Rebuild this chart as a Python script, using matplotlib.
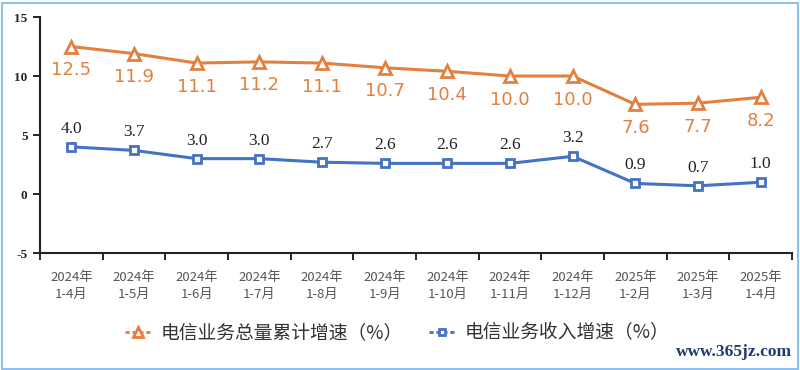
import matplotlib.pyplot as plt
from matplotlib.lines import Line2D
from matplotlib.patches import Rectangle

plt.rcParams['font.family'] = ['Noto Sans CJK SC', 'DejaVu Sans']

# 数据
periods = ['2024年\n1-4月', '2024年\n1-5月', '2024年\n1-6月', '2024年\n1-7月',
           '2024年\n1-8月', '2024年\n1-9月', '2024年\n1-10月', '2024年\n1-11月',
           '2024年\n1-12月', '2025年\n1-2月', '2025年\n1-3月', '2025年\n1-4月']
volume_growth = [12.5, 11.9, 11.1, 11.2, 11.1, 10.7, 10.4, 10.0, 10.0, 7.6, 7.7, 8.2]
revenue_growth = [4.0, 3.7, 3.0, 3.0, 2.7, 2.6, 2.6, 2.6, 3.2, 0.9, 0.7, 1.0]
y_ticks = [-5, 0, 5, 10, 15]

orange = '#E3803F'
blue = '#4472C4'

fig = plt.figure(figsize=(8, 3.7), dpi=100)
ax = fig.add_axes([0.05, 0.316, 0.94, 0.638])

x = list(range(len(periods)))
ax.plot(x, volume_growth, color=orange, lw=2.2, marker='^', ms=8,
        mfc='white', mec=orange, mew=2)
ax.plot(x, revenue_growth, color=blue, lw=2.2, marker='s', ms=6,
        mfc='white', mec=blue, mew=2)

# 数据标签
for xi, v in zip(x, volume_growth):
    ax.annotate(f'{v:.1f}', (xi, v), xytext=(0, -17), textcoords='offset points',
                ha='center', va='center', color=orange, fontsize=13,
                family='DejaVu Sans')
for xi, v in zip(x, revenue_growth):
    ax.annotate(f'{v:.1f}', (xi, v), xytext=(0, 13), textcoords='offset points',
                ha='center', va='center', color='#222222', fontsize=12.5,
                family='Liberation Serif')

ax.set_xlim(-0.5, len(periods) - 0.5)
ax.set_ylim(-5, 15)
ax.set_yticks(y_ticks)
ax.set_yticklabels([str(t) for t in y_ticks], family='Liberation Serif',
                   fontsize=9.5, fontweight='bold', color='#222222')

# x 轴刻度放在类别边界处
ax.set_xticks([i - 0.5 for i in range(len(periods) + 1)])
ax.set_xticklabels([])
ax.set_xticks(x, minor=True)
ax.set_xticklabels(periods, minor=True, fontsize=9.5, color='#555555', linespacing=1.4)
ax.tick_params(axis='x', which='major', length=5, width=1.2, direction='out')
ax.tick_params(axis='x', which='minor', length=0, pad=13)
ax.tick_params(axis='y', length=5, width=1.2, direction='out', pad=4)

for s in ['top', 'right']:
    ax.spines[s].set_visible(False)
for s in ['left', 'bottom']:
    ax.spines[s].set_linewidth(1.5)
    ax.spines[s].set_color('#222222')

# 图例
handles = [
    Line2D([0], [0], color=orange, lw=2, ls=(0, (1.5, 1)), marker='^', ms=7,
           mfc='white', mec=orange, mew=2),
    Line2D([0], [0], color=blue, lw=2, ls=(0, (1.5, 1)), marker='s', ms=5,
           mfc='white', mec=blue, mew=2),
]
labels = ['电信业务总量累计增速（%）', '电信业务收入增速（%）']
fig.legend(handles, labels, loc='center', bbox_to_anchor=(0.497, 1 - 333 / 370),
           ncol=2, frameon=False, fontsize=13.5, handlelength=1.3,
           handletextpad=0.6, columnspacing=1.4, labelcolor='#333333')

# 水印
fig.text(0.99, 1 - 352 / 370, 'www.365jz.com', ha='right', va='center',
         family='Liberation Serif', fontweight='bold', fontsize=12.5, color='#1F3A6E')

# 外框
fig.patches.append(Rectangle((0.003, 0.003), 0.994, 0.988, transform=fig.transFigure,
                             fill=False, edgecolor='#8EC1F0', lw=1.5))

fig.savefig('out.png', dpi=100)
